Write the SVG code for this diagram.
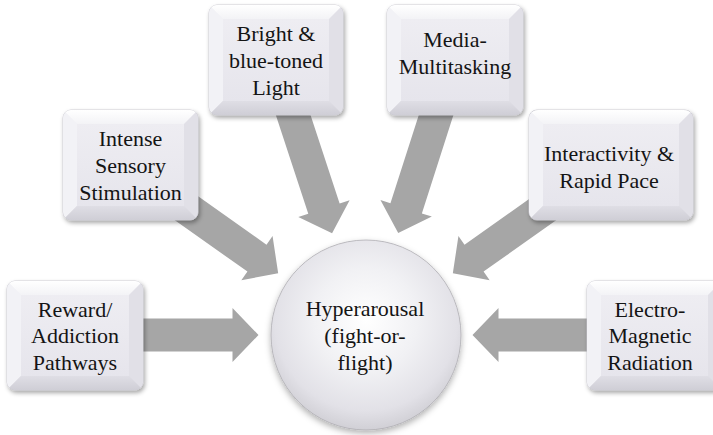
<svg xmlns="http://www.w3.org/2000/svg" xmlns:xlink="http://www.w3.org/1999/xlink" width="713" height="435" viewBox="0 0 713 435">
  <style>
    .lbl { font-family: "Liberation Serif", "Times New Roman", serif; font-size: 22px; fill: #141414; text-anchor: middle; }
    .arrow { fill: #a6a6a6; }
    .face { fill: url(#faceG); stroke: #c4c3ca; stroke-width: 0.8; filter: url(#sh); }
    .bt { fill: url(#topG); }
    .bb { fill: url(#botG); }
    .bl { fill: #f2f2f6; }
    .br { fill: #e1e0e7; }
    .inner { fill: url(#innerG); }
    .hub { fill: url(#hubG); stroke: #aeadb3; stroke-width: 0.8; filter: url(#sh2); }
  </style>
  <defs>
    <filter id="sh" x="-20%" y="-20%" width="150%" height="150%">
      <feDropShadow dx="1.5" dy="2.5" stdDeviation="2.2" flood-color="#000" flood-opacity="0.35"/>
    </filter>
    <filter id="sh2" x="-20%" y="-20%" width="150%" height="150%">
      <feDropShadow dx="0" dy="3" stdDeviation="3" flood-color="#000" flood-opacity="0.3"/>
    </filter>
    <linearGradient id="faceG" x1="0" y1="0" x2="0" y2="1">
      <stop offset="0" stop-color="#f4f4f7"/>
      <stop offset="1" stop-color="#dcdbe2"/>
    </linearGradient>
    <linearGradient id="innerG" x1="0" y1="0" x2="0" y2="1">
      <stop offset="0" stop-color="#eeedf2"/>
      <stop offset="1" stop-color="#e6e5ec"/>
    </linearGradient>
    <linearGradient id="topG" x1="0" y1="0" x2="0" y2="1">
      <stop offset="0" stop-color="#ffffff"/>
      <stop offset="1" stop-color="#f3f3f6"/>
    </linearGradient>
    <linearGradient id="botG" x1="0" y1="0" x2="0" y2="1">
      <stop offset="0" stop-color="#dfdee5"/>
      <stop offset="1" stop-color="#cfced6"/>
    </linearGradient>
    <radialGradient id="hubG" cx="0.5" cy="0.42" r="0.6">
      <stop offset="0" stop-color="#ffffff"/>
      <stop offset="0.45" stop-color="#f1f1f4"/>
      <stop offset="0.8" stop-color="#e2e1e7"/>
      <stop offset="1" stop-color="#cdccd2"/>
    </radialGradient>
    <clipPath id="rr" clipPathUnits="objectBoundingBox">
      <rect x="0" y="0" width="1" height="1" rx="0.058" ry="0.072"/>
    </clipPath>
    <path id="arr" d="M0,0 L26,-27 L26,-16.5 L140,-16.5 L140,16.5 L26,16.5 L26,27 Z"/>
  </defs>

  <g id="connectors">
    <use xlink:href="#arr" class="arrow" transform="translate(365.5,335) rotate(180) translate(107,0)"/>
    <use xlink:href="#arr" class="arrow" transform="translate(365.5,335) rotate(215.3) translate(107,0)"/>
    <use xlink:href="#arr" class="arrow" transform="translate(365.5,335) rotate(251.8) translate(107,0)"/>
    <use xlink:href="#arr" class="arrow" transform="translate(365.5,335) rotate(287.8) translate(107,0)"/>
    <use xlink:href="#arr" class="arrow" transform="translate(365.5,335) rotate(324.7) translate(107,0)"/>
    <use xlink:href="#arr" class="arrow" transform="translate(365.5,335) rotate(0) translate(107,0)"/>
  </g>

  <g id="hub">
    <circle class="hub" cx="366" cy="335" r="95"/>
    <text class="lbl" x="365" y="316">Hyperarousal</text>
    <text class="lbl" x="365" y="343">(fight-or-</text>
    <text class="lbl" x="365" y="370">flight)</text>
  </g>

  <g id="node-reward">
    <rect class="face" x="7" y="281" width="136" height="109" rx="8"/>
    <g clip-path="url(#rr)">
      <polygon class="bt" points="7,281 143,281 129,295 21,295"/>
      <polygon class="bl" points="7,281 21,295 21,376 7,390"/>
      <polygon class="br" points="143,281 129,295 129,376 143,390"/>
      <polygon class="bb" points="7,390 21,376 129,376 143,390"/>
    </g>
    <rect class="inner" x="21" y="295" width="108" height="81"/>
    <text class="lbl" x="75" y="317">Reward/</text>
    <text class="lbl" x="75" y="343">Addiction</text>
    <text class="lbl" x="75" y="370">Pathways</text>
  </g>

  <g id="node-intense">
    <rect class="face" x="63" y="110" width="135" height="110" rx="8"/>
    <g clip-path="url(#rr)">
      <polygon class="bt" points="63,110 198,110 184,124 77,124"/>
      <polygon class="bl" points="63,110 77,124 77,206 63,220"/>
      <polygon class="br" points="198,110 184,124 184,206 198,220"/>
      <polygon class="bb" points="63,220 77,206 184,206 198,220"/>
    </g>
    <rect class="inner" x="77" y="124" width="107" height="82"/>
    <text class="lbl" x="130.5" y="146">Intense</text>
    <text class="lbl" x="130.5" y="173">Sensory</text>
    <text class="lbl" x="130.5" y="200">Stimulation</text>
  </g>

  <g id="node-bright">
    <rect class="face" x="209" y="5" width="134" height="110" rx="8"/>
    <g clip-path="url(#rr)">
      <polygon class="bt" points="209,5 343,5 329,19 223,19"/>
      <polygon class="bl" points="209,5 223,19 223,101 209,115"/>
      <polygon class="br" points="343,5 329,19 329,101 343,115"/>
      <polygon class="bb" points="209,115 223,101 329,101 343,115"/>
    </g>
    <rect class="inner" x="223" y="19" width="106" height="82"/>
    <text class="lbl" x="276" y="41">Bright &amp;</text>
    <text class="lbl" x="276" y="68">blue-toned</text>
    <text class="lbl" x="276" y="94.5">Light</text>
  </g>

  <g id="node-media">
    <rect class="face" x="387" y="5" width="136" height="110" rx="8"/>
    <g clip-path="url(#rr)">
      <polygon class="bt" points="387,5 523,5 509,19 401,19"/>
      <polygon class="bl" points="387,5 401,19 401,101 387,115"/>
      <polygon class="br" points="523,5 509,19 509,101 523,115"/>
      <polygon class="bb" points="387,115 401,101 509,101 523,115"/>
    </g>
    <rect class="inner" x="401" y="19" width="108" height="82"/>
    <text class="lbl" x="455" y="47">Media-</text>
    <text class="lbl" x="455" y="74">Multitasking</text>
  </g>

  <g id="node-interactivity">
    <rect class="face" x="529" y="110" width="164" height="110" rx="8"/>
    <g clip-path="url(#rr)">
      <polygon class="bt" points="529,110 693,110 679,124 543,124"/>
      <polygon class="bl" points="529,110 543,124 543,206 529,220"/>
      <polygon class="br" points="693,110 679,124 679,206 693,220"/>
      <polygon class="bb" points="529,220 543,206 679,206 693,220"/>
    </g>
    <rect class="inner" x="543" y="124" width="136" height="82"/>
    <text class="lbl" x="609" y="161">Interactivity &amp;</text>
    <text class="lbl" x="609" y="188">Rapid Pace</text>
  </g>

  <g id="node-electro">
    <rect class="face" x="587" y="281" width="135" height="109" rx="8"/>
    <g clip-path="url(#rr)">
      <polygon class="bt" points="587,281 722,281 708,295 601,295"/>
      <polygon class="bl" points="587,281 601,295 601,376 587,390"/>
      <polygon class="br" points="722,281 708,295 708,376 722,390"/>
      <polygon class="bb" points="587,390 601,376 708,376 722,390"/>
    </g>
    <rect class="inner" x="601" y="295" width="107" height="81"/>
    <text class="lbl" x="650" y="317">Electro-</text>
    <text class="lbl" x="650" y="343">Magnetic</text>
    <text class="lbl" x="650" y="370">Radiation</text>
  </g>
</svg>
